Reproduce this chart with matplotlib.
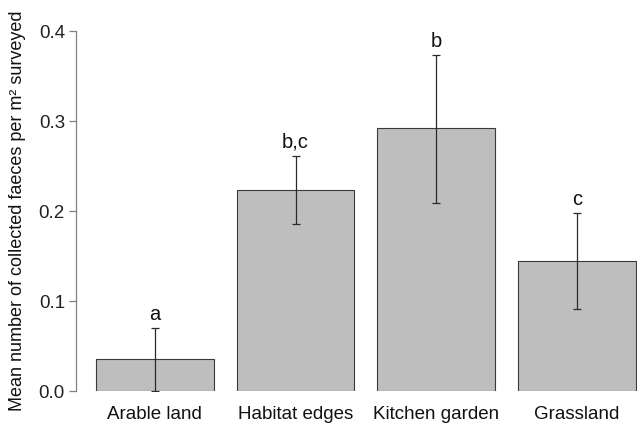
import numpy as np
import matplotlib
matplotlib.use("Agg")
import matplotlib.pyplot as plt

# Mean faeces per m2 with error bar limits
habitats = ["Arable land", "Habitat edges", "Kitchen garden", "Grassland"]
means = [0.036, 0.223, 0.292, 0.144]
err_low = [0.000, 0.186, 0.209, 0.091]
err_high = [0.070, 0.261, 0.373, 0.198]
letters = ["a", "b,c", "b", "c"]

plt.rcParams['font.family'] = ['Liberation Sans', 'DejaVu Sans']

W, H = 637, 423
fig = plt.figure(figsize=(W / 100, H / 100), dpi=100)
ax = fig.add_axes([76 / W, (H - 391) / H, (637 - 76) / W, (391 - 31) / H])

x = np.arange(len(habitats))
means = np.array(means)
yerr = np.vstack([means - np.array(err_low), np.array(err_high) - means])

ax.bar(x, means, width=0.835, color="#bebebe", edgecolor="#3a3a3a", linewidth=0.8)
ax.errorbar(x, means, yerr=yerr, fmt="none", ecolor="#2a2a2a",
            elinewidth=0.9, capsize=3, capthick=0.9)

# significance letters above each error bar
for xi, top, lab in zip(x, err_high, letters):
    ax.annotate(lab, (xi, top), xytext=(0, 3), textcoords="offset points",
                ha="center", va="bottom", fontsize=14.5, color="#111111",
                annotation_clip=False)

ax.set_xlim(-0.56, 3.427)
ax.set_ylim(0, 0.4)
ax.set_yticks([0.0, 0.1, 0.2, 0.3, 0.4])
ax.set_yticklabels(["0.0", "0.1", "0.2", "0.3", "0.4"])
ax.set_xticks(x)
ax.set_xticklabels(habitats)

for s in ["top", "right", "bottom"]:
    ax.spines[s].set_visible(False)
ax.spines["left"].set_color("#808080")
ax.spines["left"].set_linewidth(0.9)
ax.tick_params(axis="y", length=5, width=0.9, color="#808080",
               labelsize=13.5, labelcolor="#222222", pad=3)
ax.tick_params(axis="x", length=0, labelsize=13.5, labelcolor="#111111", pad=11)

ax.set_ylabel("Mean number of collected faeces per m² surveyed",
              fontsize=13, color="#111111", labelpad=9)

fig.savefig("out.png", dpi=100)
